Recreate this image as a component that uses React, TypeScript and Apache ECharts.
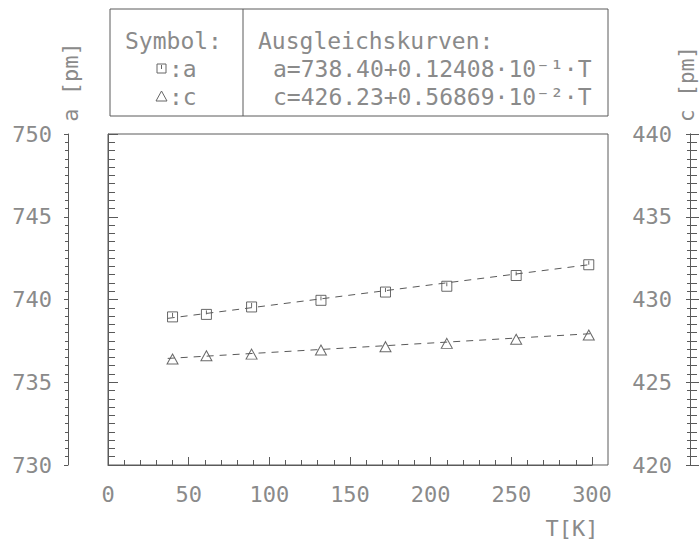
import React, { useEffect, useRef } from "react";
import * as echarts from "echarts";

// Temperatures T [K] of the measured points
const temperatures = [40, 61, 89, 132, 172, 210, 253, 298];
// Lattice constant a [pm] (squares, left axis)
const latticeA = [738.95, 739.1, 739.55, 739.95, 740.45, 740.8, 741.45, 742.1];
// Lattice constant c [pm] (triangles, right axis)
const latticeC = [426.4, 426.6, 426.7, 426.95, 427.15, 427.35, 427.6, 427.85];
// Fit lines (end points)
const fitT = [37, 302];
const fitA = [738.86, 742.15];
const fitC = [426.44, 427.95];

const xTicks = { min: 0, max: 300, interval: 50 };
const aTicks = { min: 730, max: 750, interval: 5 };
const cTicks = { min: 420, max: 440, interval: 5 };

const FONT = '"DejaVu Sans Mono", monospace';
const TXT = "#8a8a8a";
const LINE = "#5a5a5a";

export default function App() {
  const ref = useRef<HTMLDivElement>(null);
  useEffect(() => {
    document.body.style.margin = "0";
    if (!ref.current) return;
    const chart = echarts.init(ref.current, null, { renderer: "svg" });

    const label = (extra: any = {}) => ({
      fontFamily: FONT,
      fontSize: 22,
      color: TXT,
      ...extra,
    });

    const yBase = (pos: "left" | "right", ticks: any, offset: number) => ({
      type: "value",
      position: pos,
      offset,
      min: ticks.min,
      max: ticks.max,
      interval: ticks.interval,
      splitLine: { show: false },
      axisLine: { show: true, lineStyle: { color: LINE, width: 1 } },
    });

    const option: any = {
      animation: false,
      grid: { left: 108, right: 107, top: 134, bottom: 75, containLabel: false },
      xAxis: {
        type: "value",
        min: xTicks.min,
        max: xTicks.max,
        interval: xTicks.interval,
        splitLine: { show: false },
        axisLine: { show: true, lineStyle: { color: LINE } },
        axisTick: { show: true, inside: true, length: 8, lineStyle: { color: LINE } },
        minorTick: { show: true, splitNumber: 5, length: 5, lineStyle: { color: LINE } },
        axisLabel: label({ margin: 18 }),
      },
      yAxis: [
        {
          ...yBase("left", aTicks, 40),
          axisTick: { show: true, inside: true, length: 10, lineStyle: { color: LINE } },
          minorTick: { show: true, splitNumber: 10, length: 7, lineStyle: { color: LINE } },
          axisLabel: label({ margin: 16 }),
        },
        {
          ...yBase("right", cTicks, 98),
          axisTick: { show: true, inside: false, length: 10, lineStyle: { color: LINE } },
          minorTick: { show: true, splitNumber: 10, length: 7, lineStyle: { color: LINE } },
          axisLabel: label({ margin: 18, inside: true }),
        },
        {
          ...yBase("left", aTicks, 40),
          axisTick: { show: true, inside: false, length: 4, lineStyle: { color: LINE } },
          minorTick: { show: true, splitNumber: 10, length: 3, lineStyle: { color: LINE } },
          axisLabel: { show: false },
        },
        {
          ...yBase("right", cTicks, 98),
          axisTick: { show: true, inside: true, length: 4, lineStyle: { color: LINE } },
          minorTick: { show: true, splitNumber: 10, length: 3, lineStyle: { color: LINE } },
          axisLabel: { show: false },
        },
      ],
      series: [
        {
          type: "line",
          yAxisIndex: 0,
          data: fitT.map((t, i) => [t, fitA[i]]),
          symbol: "none",
          clip: false,
          lineStyle: { color: LINE, width: 1, type: [7, 6] },
          silent: true,
        },
        {
          type: "line",
          yAxisIndex: 1,
          data: fitT.map((t, i) => [t, fitC[i]]),
          symbol: "none",
          clip: false,
          lineStyle: { color: LINE, width: 1, type: [7, 6] },
          silent: true,
        },
        {
          type: "scatter",
          yAxisIndex: 0,
          data: temperatures.map((t, i) => [t, latticeA[i]]),
          symbol: "path://M0,0 L10,0 L10,10 L0,10 Z M5,1 L5,5",
          symbolSize: 10,
          itemStyle: { color: "rgba(0,0,0,0)", borderColor: "#444", borderWidth: 1 },
        },
        {
          type: "scatter",
          yAxisIndex: 1,
          data: temperatures.map((t, i) => [t, latticeC[i]]),
          symbol: "triangle",
          symbolSize: [11, 10],
          itemStyle: { color: "rgba(0,0,0,0)", borderColor: "#444", borderWidth: 1 },
        },
      ],
      graphic: [
        {
          type: "rect",
          shape: { x: 108, y: 134, width: 500, height: 331 },
          style: { fill: "none", stroke: LINE, lineWidth: 1 },
          silent: true,
        },
        {
          type: "rect",
          shape: { x: 110, y: 9, width: 498, height: 107 },
          style: { fill: "none", stroke: LINE, lineWidth: 1 },
        },
        {
          type: "line",
          shape: { x1: 243, y1: 9, x2: 243, y2: 116 },
          style: { stroke: LINE, lineWidth: 1 },
        },
        {
          type: "rect",
          shape: { x: 157, y: 64, width: 9, height: 9 },
          style: { fill: "none", stroke: "#666", lineWidth: 1 },
        },
        {
          type: "line",
          shape: { x1: 161.5, y1: 65, x2: 161.5, y2: 69 },
          style: { stroke: "#666", lineWidth: 1 },
        },
        {
          type: "polygon",
          shape: { points: [[161.5, 91], [156, 101], [167, 101]] },
          style: { fill: "none", stroke: "#666", lineWidth: 1 },
        },
        ...[
          { text: "Symbol:", x: 125, y: 41 },
          { text: ":a", x: 169, y: 69 },
          { text: ":c", x: 169, y: 97 },
          { text: "Ausgleichskurven:", x: 258, y: 41 },
          { text: "a=738.40+0.12408·10⁻¹·T", x: 273, y: 69 },
          { text: "c=426.23+0.56869·10⁻²·T", x: 273, y: 97 },
        ].map((t) => ({
          type: "text",
          x: t.x,
          y: t.y,
          style: {
            text: t.text,
            fontFamily: FONT,
            fontSize: 23,
            fill: TXT,
            align: "left",
            verticalAlign: "middle",
          },
        })),
        {
          type: "text",
          x: 70,
          y: 82,
          rotation: Math.PI / 2,
          style: {
            text: "a [pm]",
            fontFamily: FONT,
            fontSize: 22,
            fill: TXT,
            align: "center",
            verticalAlign: "middle",
          },
        },
        {
          type: "text",
          x: 687,
          y: 84,
          rotation: Math.PI / 2,
          style: {
            text: "c [pm]",
            fontFamily: FONT,
            fontSize: 21,
            fill: TXT,
            align: "center",
            verticalAlign: "middle",
          },
        },
        {
          type: "text",
          x: 572,
          y: 528,
          style: {
            text: "T[K]",
            fontFamily: FONT,
            fontSize: 22,
            fill: TXT,
            align: "center",
            verticalAlign: "middle",
          },
        },
      ],
    };
    chart.setOption(option);
    return () => chart.dispose();
  }, []);
  return (
    <div
      ref={ref}
      style={{ width: 699, height: 540, position: "absolute", left: 0, top: 0 }}
    />
  );
}
